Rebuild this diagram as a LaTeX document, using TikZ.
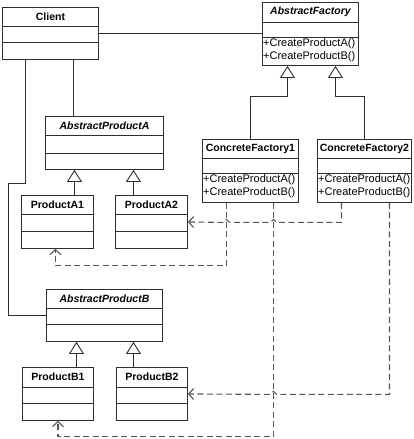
\documentclass[tikz,border=0pt]{standalone}
\usepackage{fontspec}
\setmainfont{Liberation Sans}
\usetikzlibrary{arrows.meta}

\definecolor{umlline}{HTML}{2E2E2E}
\definecolor{depline}{HTML}{555555}

% class box: name, x, y, width, title h, attr h, ops h, title, ops
\newcommand{\umlclass}[9]{%
  \node[cls, minimum width=#4pt, minimum height={(#5+#6+#7)*1pt}, anchor=north west] (#1) at (#2,#3) {};
  \node[clstitle, minimum height=#5pt, anchor=north] (#1-name) at (#1.north) {#8};
  \draw[clsline] ([yshift=-#5pt]#1.north west) -- ([yshift=-#5pt]#1.north east);
  \draw[clsline] ([yshift=-#5pt-#6pt]#1.north west) -- ([yshift=-#5pt-#6pt]#1.north east);
  \node[clsops, anchor=north west] (#1-ops) at ([yshift=-#5pt-#6pt]#1.north west) {#9};
}

\begin{document}
\begin{tikzpicture}[x=1pt,y=-1pt,
    cls/.style={draw=umlline, line width=0.9pt, inner sep=0pt},
    clsline/.style={draw=umlline, line width=0.9pt},
    clstitle/.style={inner sep=0pt, font=\fontsize{10.5}{12}\selectfont\bfseries},
    clsops/.style={inner sep=1pt, align=left, font=\fontsize{11}{13}\selectfont},
    inh/.style={draw=umlline, line width=0.9pt, -{Triangle[length=12pt, width=15pt, fill=white]}},
    dep/.style={draw=depline, line width=1.1pt, dash pattern=on 6pt off 3.5pt, -{Straight Barb[length=5pt, width=11pt]}}]
    \useasboundingbox (0,0) rectangle (414,439);

    \umlclass{client}{2}{7}{96}{19}{16}{17}{Client}{}
    \umlclass{afac}{262}{2}{96}{20}{15}{28}{\itshape AbstractFactory}{+CreateProductA()\\+CreateProductB()}
    \umlclass{cf1}{202}{139}{96}{19}{15}{29}{ConcreteFactory1}{+CreateProductA()\\+CreateProductB()}
    \umlclass{cf2}{317}{139}{94}{19}{15}{29}{ConcreteFactory2}{+CreateProductA()\\+CreateProductB()}
    \umlclass{apa}{45}{116}{118}{19}{18}{16}{\itshape AbstractProductA}{}
    \umlclass{pa1}{21}{195}{72}{19}{17}{17}{ProductA1}{}
    \umlclass{pa2}{115}{195}{72}{19}{17}{17}{ProductA2}{}
    \umlclass{apb}{46}{289}{116}{19}{16}{17}{\itshape AbstractProductB}{}
    \umlclass{pb1}{22}{367}{71}{20}{16}{17}{ProductB1}{}
    \umlclass{pb2}{116}{367}{71}{20}{16}{17}{ProductB2}{}

    % associations
    \draw[clsline] (client.east) -- (client.east -| afac.west);
    \draw[clsline] ([xshift=71pt]client.south west) -- ([xshift=71pt]client.south west |- apa.north);
    \draw[clsline] ([xshift=23pt]client.south west) -- ++(0,124) -- ++(-17,0) |- (apb.west);

    % generalizations
    \draw[inh] (cf1.north) -- ++(0,-43) -| ([xshift=-23pt]afac.south);
    \draw[inh] (cf2.north) -- ++(0,-43) -| ([xshift=25pt]afac.south);
    \draw[inh] ([xshift=17pt]pa1.north) -- ([xshift=17pt]pa1.north |- apa.south);
    \draw[inh] ([xshift=-18pt]pa2.north) -- ([xshift=-18pt]pa2.north |- apa.south);
    \draw[inh] ([xshift=18.5pt]pb1.north) -- ([xshift=18.5pt]pb1.north |- apb.south);
    \draw[inh] ([xshift=-18.5pt]pb2.north) -- ([xshift=-18.5pt]pb2.north |- apb.south);

    % dependencies
    \draw[dep] ([xshift=-24pt]cf1.south) -- ++(0,63) -| ([xshift=-2pt]pa1.south);
    \draw[dep] ([xshift=-23pt]cf2.south) -- ++(0,19.5) -- ++(-65,0) -- ++(-3,-3) -- ++(-3,3)
        -- ++(-41,0) -- ++(-3,-3) -- ++(-3,3) -- (pa2.east);
    \draw[dep] ([xshift=23pt]cf1.south) -- ++(0,234) -| (pb1.south);
    \draw[dep] ([xshift=25pt]cf2.south) -- ++(0,191.5) -- ++(-113,0) -- ++(-3,-3) -- ++(-3,3) -- (pb2.east);
\end{tikzpicture}
\end{document}
